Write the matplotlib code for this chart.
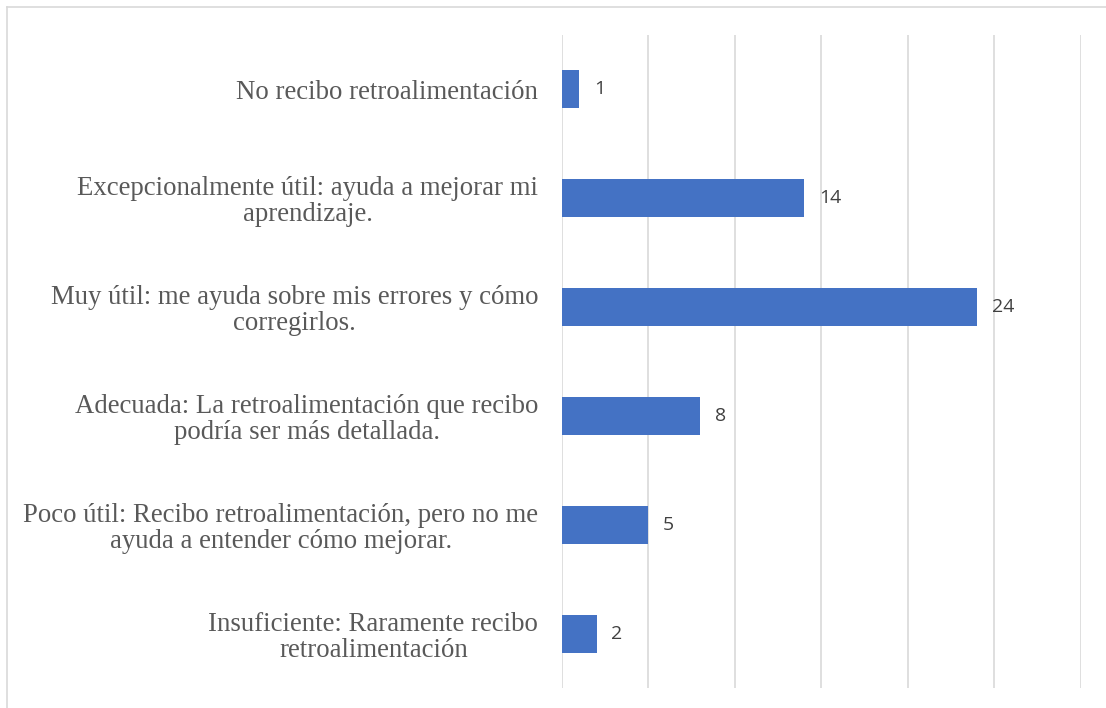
import matplotlib.pyplot as plt
from matplotlib.lines import Line2D

categorias = [
    "No recibo retroalimentación",
    "Excepcionalmente útil: ayuda a mejorar mi\naprendizaje.",
    "Muy útil: me ayuda sobre mis errores y cómo\ncorregirlos.",
    "Adecuada: La retroalimentación que recibo\npodría ser más detallada.",
    "Poco útil: Recibo retroalimentación, pero no me\nayuda a entender cómo mejorar.",
    "Insuficiente: Raramente recibo\nretroalimentación",
]
valores = [1, 14, 24, 8, 5, 2]
ticks_x = [0, 5, 10, 15, 20, 25, 30]

fig = plt.figure(figsize=(11.06, 7.08), dpi=100)
ax = fig.add_axes([0.5081, 0.0282, 0.4693, 0.9224])

pos = list(range(len(categorias)))[::-1]
barras = ax.barh(pos, valores, height=0.35, color="#4472C4", zorder=3)

ax.set_xlim(0, 30)
ax.set_ylim(-0.5, len(categorias) - 0.5)
ax.set_xticks(ticks_x)
ax.set_xticklabels([])
ax.tick_params(axis="x", length=0)
ax.tick_params(axis="y", length=0, pad=17)
ax.grid(axis="x", color="#d9d9d9", linewidth=1.2, zorder=0)
for s in ax.spines.values():
    s.set_visible(False)

ax.set_yticks(pos)
ax.set_yticklabels(categorias, fontfamily="Liberation Serif", fontsize=19.3, color="#595959")
for t in ax.get_yticklabels():
    t.set_multialignment("center")
    t.set_linespacing(1.05)

for b, v in zip(barras, valores):
    ax.text(b.get_width() + 0.85, b.get_y() + b.get_height() / 2, str(v),
            va="center", ha="left", fontsize=14, color="#404040", family="Open Sans")

# borde exterior del cuadro
fig.add_artist(Line2D([7 / 1106, 7 / 1106], [0, 1 - 7 / 708], transform=fig.transFigure,
                      color="#d9d9d9", linewidth=1.2))
fig.add_artist(Line2D([7 / 1106, 1], [1 - 7 / 708, 1 - 7 / 708], transform=fig.transFigure,
                      color="#d9d9d9", linewidth=1.2))

fig.savefig("out.png", dpi=100)
